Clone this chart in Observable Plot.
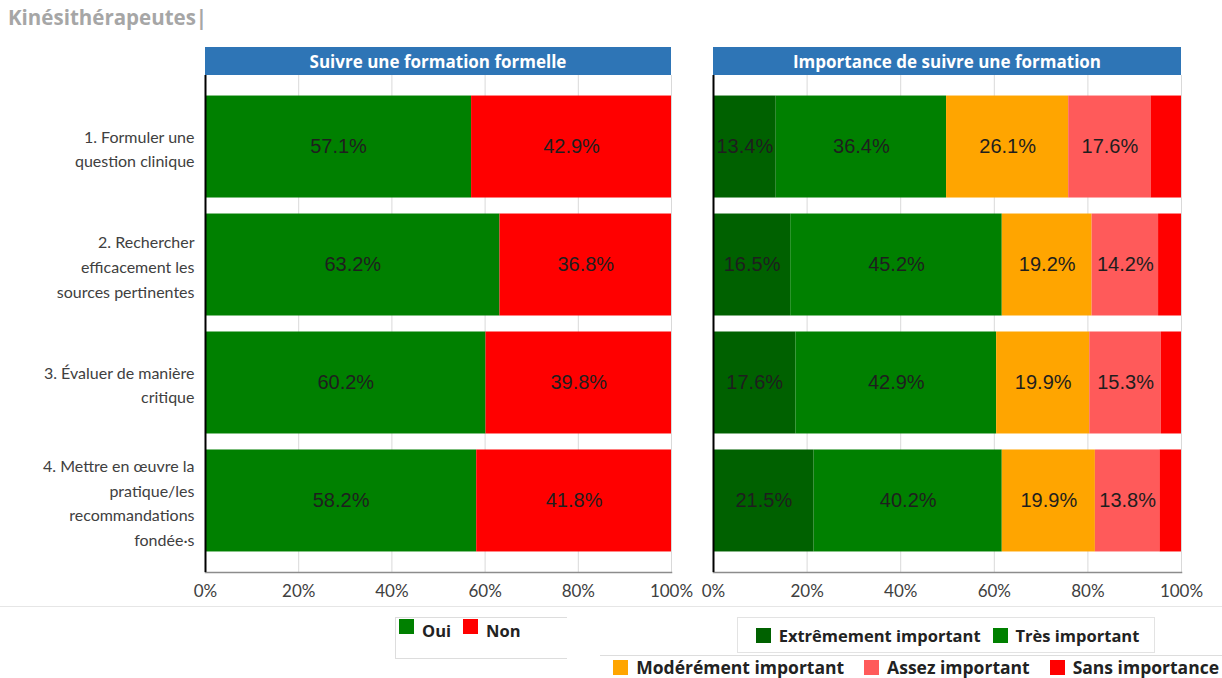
<!DOCTYPE html>
<html>
<head>
<meta charset="utf-8">
<script src="https://cdn.jsdelivr.net/npm/d3@7"></script>
<script src="https://cdn.jsdelivr.net/npm/@observablehq/plot@0.6"></script>
<style>
  body { margin: 0; background: #fff; }
  #wrap { position: relative; width: 1222px; height: 678px; overflow: hidden; font-family: "Open Sans", sans-serif; }
  .abs { position: absolute; }
  .title { left: 8px; top: 3px; font-size: 20.5px; font-weight: 700; color: #a6a6a6; }
  .hdr { top: 47px; height: 28px; background: #2e75b6; color: #fff; font-weight: 700; font-size: 17px; display: flex; align-items: center; justify-content: center; }
  .leg { display: flex; align-items: center; font-weight: 700; font-size: 16.5px; color: #222; white-space: nowrap; }
  .sw { display: inline-block; width: 15px; height: 15px; margin-right: 8px; margin-left: 12px; }
  #l3 { font-size: 17.5px; }
  #l3 .sw { margin-left: 20px; }
  svg { overflow: visible; }
</style>
</head>
<body>
<div id="wrap">
  <div class="abs title">Kinésithérapeutes|</div>
  <div class="abs hdr" id="h1" style="left:205px;width:466px;"></div>
  <div class="abs hdr" id="h2" style="left:713px;width:468px;"></div>
  <div class="abs" id="p1" style="left:0px;top:75px;"></div>
  <div class="abs" id="p2" style="left:693px;top:75px;"></div>
  <div class="abs" style="left:0;top:606px;width:1222px;border-top:1px solid #e6e6e6;"></div>
  <div class="abs leg" id="l1" style="left:395px;top:617px;width:172px;height:42px;border:1px solid #ddd;border-right:none;align-items:flex-start;padding-top:1px;box-sizing:border-box;"></div>
  <div class="abs leg" id="l2" style="left:737px;top:617px;width:418px;height:36px;border:1px solid #e3e3e3;justify-content:center;box-sizing:border-box;"></div>
  <div class="abs leg" id="l3" style="left:600px;top:655px;width:622px;height:23px;border-top:1px solid #ddd;justify-content:flex-end;box-sizing:border-box;padding-right:3px;"></div>
</div>
<script>
// ---- Data ----
const categories = [
  "1. Formuler une\nquestion clinique",
  "2. Rechercher\nefficacement les\nsources pertinentes",
  "3. Évaluer de manière\ncritique",
  "4. Mettre en œuvre la\npratique/les\nrecommandations\nfondée·s"
];
const leftTitle = "Suivre une formation formelle";
const rightTitle = "Importance de suivre une formation";

const leftSeries = ["Oui", "Non"];
const oui = [57.1, 63.2, 60.2, 58.2];
const non = [42.9, 36.8, 39.8, 41.8];
const leftColors = ["#008000", "#ff0000"];

const rightSeries = ["Extrêmement important", "Très important", "Modérément important", "Assez important", "Sans importance"];
const extremement = [13.4, 16.5, 17.6, 21.5];
const tres = [36.4, 45.2, 42.9, 40.2];
const modere = [26.1, 19.2, 19.9, 19.9];
const assez = [17.6, 14.2, 15.3, 13.8];
const sans = [6.5, 4.9, 4.3, 4.6];
const rightColors = ["#006100", "#008000", "#ffa500", "#ff5a5a", "#ff0000"];

const xTicks = [0, 20, 40, 60, 80, 100];
const unlabeled = ["Sans importance"];

// ---- Build long tables ----
function longTable(seriesNames, arrays) {
  const out = [];
  categories.forEach((c, i) => {
    seriesNames.forEach((s, j) => out.push({cat: c, series: s, value: arrays[j][i]}));
  });
  return out;
}
const leftData = longTable(leftSeries, [oui, non]);
const rightData = longTable(rightSeries, [extremement, tres, modere, assez, sans]);

document.getElementById("h1").textContent = leftTitle;
document.getElementById("h2").textContent = rightTitle;

function panel(data, series, colors, opts) {
  const textData = data.filter(d => !unlabeled.includes(d.series));
  return Plot.plot({
    width: opts.width,
    height: 537,
    marginLeft: opts.marginLeft,
    marginRight: opts.marginRight,
    marginTop: 0,
    marginBottom: 40,
    style: {fontFamily: "Lato, 'Open Sans', sans-serif", fontSize: "17px", color: "#404040", background: "transparent"},
    x: {domain: [0, 100], ticks: xTicks, tickFormat: d => d + "%", tickSize: 0, tickPadding: 12, label: null},
    y: {domain: categories, axis: null, paddingInner: 0.1356, paddingOuter: 0.174, round: false},
    color: {domain: series, range: colors},
    marks: [
      Plot.gridX(xTicks, {stroke: "#d9d9d9", strokeOpacity: 1, strokeWidth: 1}),
      Plot.barX(data, {x: "value", y: "cat", fill: "series", order: series}),
      Plot.text(textData, Plot.stackX({x: "value", y: "cat", z: "series", order: series,
        text: d => d.value.toFixed(1) + "%", fill: "#1e1e1e",
        fontFamily: "'Liberation Sans', Arial, sans-serif", fontSize: 20})),
      Plot.frame({anchor: "bottom", stroke: "#8c8c8c", strokeWidth: 1.5}),
      Plot.ruleX([0], {stroke: "#000", strokeWidth: 2}),
      ...(opts.yLabels ? [Plot.text(categories, {y: d => d, text: d => d, frameAnchor: "left", textAnchor: "end", dx: -11, lineHeight: 1.55, fill: "#404040", fontSize: 16})] : [])
    ]
  });
}

document.getElementById("p1").appendChild(panel(leftData, leftSeries, leftColors, {width: 690, marginLeft: 205, marginRight: 19, yLabels: true}));
document.getElementById("p2").appendChild(panel(rightData, rightSeries, rightColors, {width: 529, marginLeft: 20, marginRight: 41, yLabels: false}));

function legend(id, names, colors) {
  const el = document.getElementById(id);
  names.forEach((n, i) => {
    const s = document.createElement("span");
    s.className = "sw"; s.style.background = colors[i];
    if (i === 0) s.style.marginLeft = "3px";
    el.appendChild(s);
    const t = document.createElement("span");
    t.textContent = n;
    el.appendChild(t);
  });
}
legend("l1", leftSeries, leftColors);
legend("l2", rightSeries.slice(0, 2), rightColors.slice(0, 2));
legend("l3", rightSeries.slice(2), rightColors.slice(2));
</script>
</body>
</html>
